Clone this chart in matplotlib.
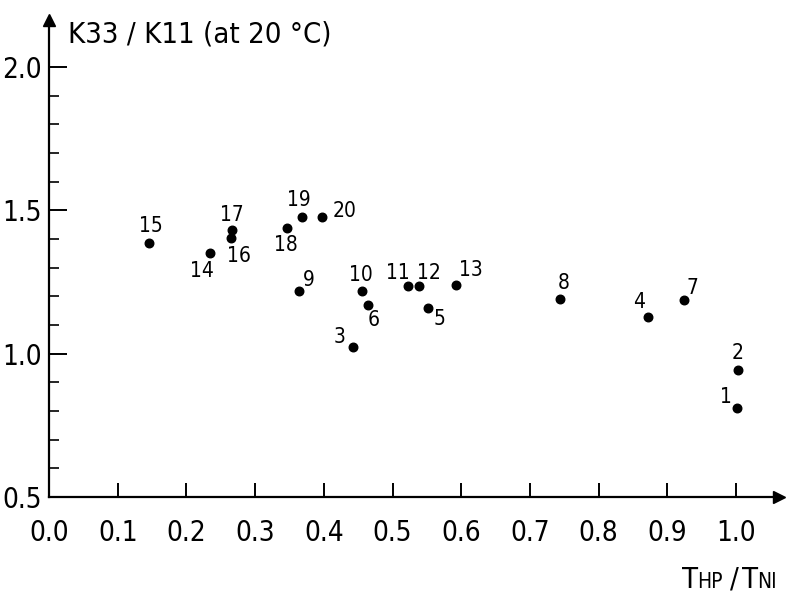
import matplotlib
matplotlib.use('Agg')
import matplotlib.pyplot as plt

plt.rcParams['font.family'] = ['DejaVu Sans']
plt.rcParams['font.stretch'] = 'condensed'

# data
labels = ['1', '2', '3', '4', '5', '6', '7', '8', '9', '10',
          '11', '12', '13', '14', '15', '16', '17', '18', '19', '20']
t_ratio = [1.001, 1.003, 0.443, 0.872, 0.552, 0.464, 0.924, 0.744, 0.364, 0.456,
           0.523, 0.538, 0.593, 0.235, 0.146, 0.265, 0.266, 0.346, 0.368, 0.398]
k_ratio = [0.809, 0.943, 1.022, 1.127, 1.159, 1.169, 1.188, 1.192, 1.219, 1.219,
           1.236, 1.236, 1.238, 1.352, 1.386, 1.402, 1.433, 1.438, 1.476, 1.476]
# label offsets from the dot, in pixels (right, up)
label_off = [(-11, 11), (0, 17), (-14, 10), (-9, 15), (11, -11), (6, -15), (9, 12),
             (4, 16), (10, 11), (-1, 16), (-10, 13), (10, 13), (14, 15), (-9, -18),
             (2, 17), (8, -18), (0, 15), (-1, -17), (-3, 17), (22, 6)]

xticks = [0.0, 0.1, 0.2, 0.3, 0.4, 0.5, 0.6, 0.7, 0.8, 0.9, 1.0]
yticks = [0.5, 1.0, 1.5, 2.0]
yminor = [0.6, 0.7, 0.8, 0.9, 1.1, 1.2, 1.3, 1.4, 1.6, 1.7, 1.8, 1.9]

W, H = 786, 594
fig = plt.figure(figsize=(W / 100, H / 100), dpi=100)
x0, y0 = 49, 497
x1, y1 = 779, 20
ax = fig.add_axes([x0 / W, 1 - y0 / H, (x1 - x0) / W, (y0 - y1) / H])

px_per_x = 687.0
px_per_y = 286.7
ax.set_xlim(0, (x1 - x0) / px_per_x)
ax.set_ylim(0.5, 0.5 + (y0 - y1) / px_per_y)

ax.scatter(t_ratio, k_ratio, s=38, color='black', zorder=3, clip_on=False)
for lab, xv, yv, (dx, dy) in zip(labels, t_ratio, k_ratio, label_off):
    ax.annotate(lab, (xv, yv), xytext=(dx * 0.72, dy * 0.72), textcoords='offset points',
                ha='center', va='center', fontsize=15)

for s in ['top', 'right']:
    ax.spines[s].set_visible(False)
for s in ['left', 'bottom']:
    ax.spines[s].set_linewidth(1.6)

ax.plot(1, 0, '>', color='black', ms=9, transform=ax.transAxes, clip_on=False)
ax.plot(0, 1, '^', color='black', ms=9, transform=ax.transAxes, clip_on=False)

ax.set_xticks(xticks)
ax.set_xticklabels([f'{v:.1f}' for v in xticks])
ax.set_yticks(yticks)
ax.set_yticklabels([f'{v:.1f}' for v in yticks])
ax.set_yticks(yminor, minor=True)
ax.tick_params(axis='x', direction='in', length=10, width=1.4, labelsize=20, pad=16)
ax.tick_params(axis='y', which='major', direction='in', length=13, width=1.4, labelsize=20, pad=5)
ax.tick_params(axis='y', which='minor', direction='in', length=7, width=1.2)

fig.text(68 / W, 1 - 43 / H, 'K33 / K11 (at 20 °C)', fontsize=21, va='baseline', ha='left')

# x axis label: T_HP / T_NI with small-cap letters on the baseline
yb = 1 - 588 / H
fig.text(682 / W, yb, 'T', fontsize=21, va='baseline')
fig.text(697 / W, yb, 'HP', fontsize=15, va='baseline')
fig.text(730 / W, yb, '/', fontsize=21, va='baseline')
fig.text(742 / W, yb, 'T', fontsize=21, va='baseline')
fig.text(757 / W, yb, 'NI', fontsize=15, va='baseline')

fig.savefig('out.png', dpi=100)
